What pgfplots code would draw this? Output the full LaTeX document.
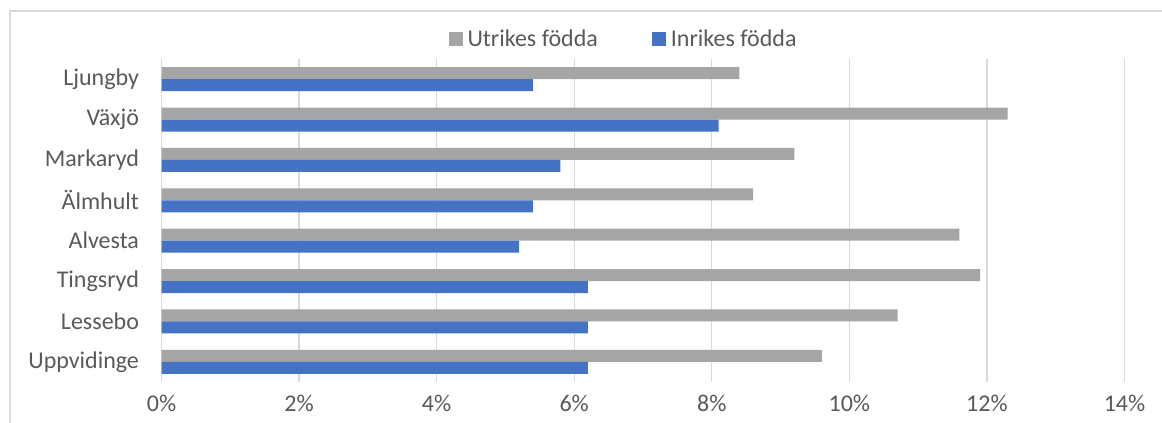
\documentclass[border=0pt]{standalone}
\usepackage{pgfplots}
\pgfplotsset{compat=1.18}
\usepackage{fontspec}
\setmainfont{Carlito}
\definecolor{cgray}{HTML}{A5A5A5}
\definecolor{cblue}{HTML}{4472C4}
\definecolor{cgrid}{HTML}{D9D9D9}
\definecolor{ctext}{HTML}{595959}
\begin{document}
\begin{tikzpicture}
\useasboundingbox (0pt,0pt) rectangle (1162pt,423pt);
\draw[cgrid, line width=1.2pt] (10pt,-20pt) -- (10pt,412pt) -- (1200pt,412pt);
\begin{axis}[
 at={(161.5pt,41pt)}, anchor=south west,
 scale only axis, width=963pt, height=323pt,
 xmin=0, xmax=14, ymin=-0.5, ymax=7.5,
 xtick={0,2,...,14},
 xticklabel={\pgfmathprintnumber{\tick}\%},
 /pgf/number format/assume math mode=true,
 ytick={0,...,7},
 yticklabels={Uppvidinge,Lessebo,Tingsryd,Alvesta,Älmhult,Markaryd,Växjö,Ljungby},
 axis line style={draw=none},
 major tick length=0pt,
 xmajorgrids, grid style={cgrid, line width=1.2pt},
 tick label style={font=\fontsize{24}{28}\selectfont, text=ctext},
 xticklabel style={yshift=-10pt},
 yticklabel style={xshift=-19pt},
 xbar, bar width=12pt,
 legend image code/.code={\fill[#1] (0pt,-7pt) rectangle (14pt,7pt); \path (17pt,0pt);},
 legend style={at={(0.4798,1.062)}, anchor=center, draw=none, fill=none,
   legend columns=2, font=\fontsize{24}{28}\selectfont, text=ctext,
   /tikz/every even column/.append style={column sep=52pt}},
]
\addplot[fill=cgray, draw=none, bar shift=6pt] coordinates {
 (9.6,0) (10.7,1) (11.9,2) (11.6,3) (8.6,4) (9.2,5) (12.3,6) (8.4,7)};
\addplot[fill=cblue, draw=none, bar shift=-6pt] coordinates {
 (6.2,0) (6.2,1) (6.2,2) (5.2,3) (5.4,4) (5.8,5) (8.1,6) (5.4,7)};
\legend{Utrikes födda, Inrikes födda}
\end{axis}
\end{tikzpicture}
\end{document}
